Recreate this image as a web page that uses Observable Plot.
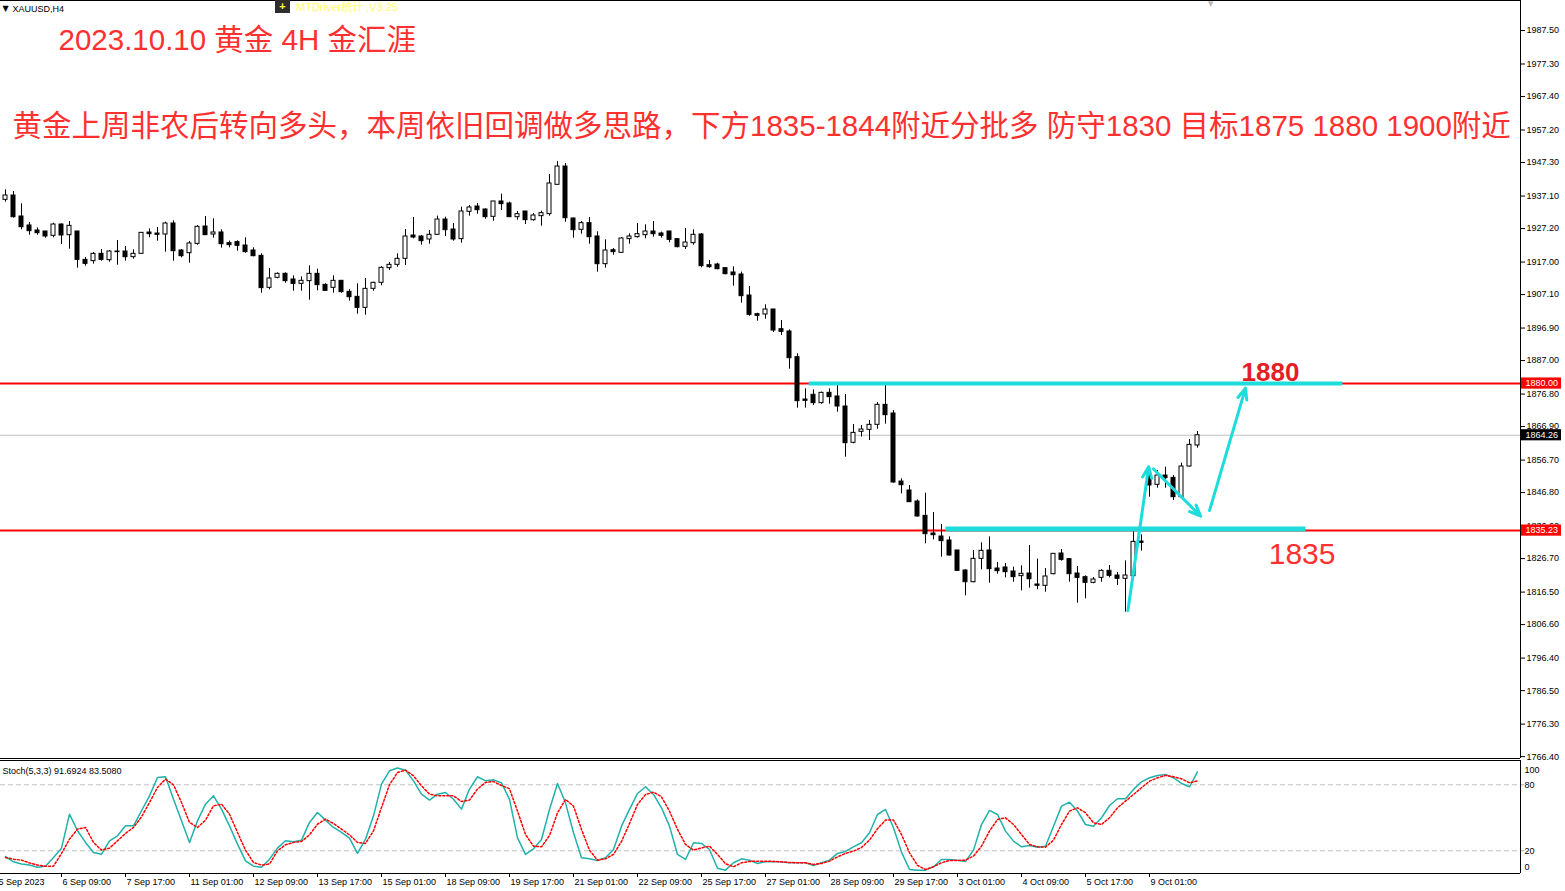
<!DOCTYPE html>
<html><head><meta charset="utf-8">
<script src="https://cdn.jsdelivr.net/npm/d3@7"></script>
<script src="https://cdn.jsdelivr.net/npm/@observablehq/plot@0.6"></script>
<style>
html,body{margin:0;padding:0;background:#fff;}
#wrap{position:relative;width:1565px;height:891px;overflow:hidden;background:#fff;}
#main{position:absolute;left:0;top:0;}
#osc{position:absolute;left:0;top:760px;}
.mtd{position:absolute;left:275px;top:0;width:15px;height:13px;background:#2e2e2e;color:#ffff40;font:bold 11px 'Liberation Sans',sans-serif;text-align:center;line-height:13px;}
.mtdt{position:absolute;left:296px;top:0px;color:#ffff70;font:11px 'Liberation Sans','Noto Sans CJK SC',sans-serif;line-height:14px;}
.shift{position:absolute;left:1208px;top:0px;color:#b8b8b8;font:7px 'DejaVu Sans',sans-serif;line-height:8px;}
</style></head>
<body><div id="wrap"><div id="main"></div><div id="osc"></div>
<div class="mtd">+</div><div class="mtdt">MTDriver统计 ,V3.25</div><div class="shift">▼</div>
</div>
<script>
// ---------- data ----------
const symbolLabel = "XAUUSD,H4";
const title = "2023.10.10 黄金 4H 金汇涯";
const subtitle = "黄金上周非农后转向多头，本周依旧回调做多思路，下方1835-1844附近分批多 防守1830 目标1875 1880 1900附近";

const open = [1935.94,1937.26,1930.87,1928.13,1926.60,1926.30,1924.98,1928.43,1925.18,1926.30,
1917.67,1917.27,1919.50,1917.57,1920.21,1920.21,1918.48,1919.50,1925.99,1925.69,
1925.39,1928.74,1920.51,1919.70,1922.54,1927.82,1925.39,1926.00,1922.75,1923.05,
1922.04,1920.51,1918.89,1909.15,1912.19,1913.41,1911.68,1910.36,1911.18,1913.41,
1910.06,1909.15,1911.28,1907.93,1906.41,1903.06,1908.84,1910.67,1915.14,1916.15,
1917.98,1925.08,1924.78,1923.87,1925.29,1929.95,1926.91,1923.97,1932.29,1933.91,
1933.00,1930.77,1935.44,1934.83,1930.66,1932.39,1929.75,1930.97,1931.58,1940.51,
1946.09,1930.26,1926.81,1928.84,1924.78,1916.35,1920.61,1919.80,1923.97,1924.57,
1925.18,1926.30,1925.69,1926.30,1923.97,1921.63,1922.75,1925.39,1916.05,1916.25,
1915.14,1913.82,1913.21,1906.81,1901.13,1901.03,1902.55,1896.55,1895.85,1888.03,
1875.14,1876.57,1874.03,1877.17,1876.06,1873.01,1861.95,1865.30,1865.91,1867.43,
1873.52,1870.88,1850.17,1847.43,1844.08,1839.72,1834.34,1833.43,1832.21,1829.17,
1823.07,1819.52,1826.63,1829.17,1823.68,1823.99,1822.77,1821.35,1822.16,1818.81,
1818.41,1821.96,1828.25,1826.53,1822.16,1821.04,1819.32,1820.84,1822.97,1821.55,
1820.54,1821.35,1831.90,1852.00,1849.16,1852.00,1851.29,1845.40,1854.74,1861.14];
const high = [1938.99,1938.48,1934.72,1929.04,1927.42,1926.40,1928.84,1928.60,1929.35,1926.40,
1918.38,1919.91,1920.82,1920.51,1923.56,1921.73,1920.72,1926.00,1927.11,1927.52,
1929.14,1929.55,1920.82,1923.26,1928.13,1930.87,1930.16,1926.81,1923.36,1923.46,
1924.37,1921.33,1919.50,1915.03,1913.71,1913.71,1912.80,1912.50,1915.85,1914.83,
1910.36,1912.80,1911.40,1908.54,1910.36,1911.99,1910.87,1915.54,1916.86,1919.50,
1926.91,1930.56,1925.08,1926.60,1930.97,1930.66,1928.74,1933.71,1934.22,1934.83,
1933.20,1935.50,1937.67,1935.23,1932.39,1932.40,1931.78,1932.49,1943.66,1947.62,
1947.01,1930.36,1929.35,1930.56,1926.20,1923.76,1921.12,1924.47,1925.59,1928.74,
1928.33,1929.35,1926.10,1926.40,1924.00,1927.21,1926.81,1925.69,1917.47,1916.66,
1915.34,1915.54,1913.92,1909.55,1901.43,1903.97,1902.60,1899.20,1896.36,1889.05,
1878.39,1878.09,1877.38,1878.39,1879.41,1876.67,1867.53,1867.23,1868.75,1874.23,
1879.41,1871.79,1850.99,1848.96,1844.60,1846.62,1840.74,1837.08,1833.32,1829.20,
1823.28,1829.17,1831.50,1833.32,1825.51,1825.21,1824.09,1824.50,1830.69,1826.53,
1823.68,1828.20,1829.47,1826.73,1824.29,1821.45,1820.94,1823.28,1824.60,1822.47,
1826.02,1835.26,1833.94,1853.52,1853.52,1854.54,1852.00,1855.76,1862.96,1865.40];
const low = [1935.23,1930.40,1926.81,1925.18,1925.18,1924.27,1924.37,1922.34,1920.92,1915.14,
1915.74,1916.35,1917.27,1916.96,1916.05,1917.27,1917.88,1919.40,1924.37,1923.36,
1920.01,1917.27,1918.28,1916.66,1922.14,1925.10,1924.27,1921.23,1921.33,1920.31,
1919.70,1918.59,1907.52,1908.54,1911.89,1910.57,1908.13,1908.13,1905.39,1908.23,
1908.13,1907.52,1907.52,1905.09,1901.13,1900.82,1908.13,1909.76,1914.42,1915.44,
1915.95,1924.07,1922.14,1922.44,1925.20,1924.78,1923.36,1922.75,1930.97,1931.58,
1930.06,1929.45,1932.70,1930.60,1929.75,1928.43,1929.45,1927.92,1930.97,1940.40,
1929.14,1924.27,1925.49,1922.44,1913.92,1915.14,1919.09,1919.70,1922.44,1924.27,
1924.07,1924.57,1924.27,1922.85,1921.33,1920.82,1922.14,1915.24,1915.14,1914.63,
1913.11,1909.66,1904.48,1900.52,1899.00,1899.60,1895.55,1894.63,1884.38,1872.51,
1872.51,1873.32,1873.72,1873.72,1871.29,1857.59,1861.65,1863.68,1862.66,1866.11,
1867.63,1849.67,1846.42,1843.80,1839.32,1831.20,1832.41,1827.13,1827.44,1822.77,
1815.36,1819.32,1823.28,1819.22,1821.96,1820.84,1819.52,1816.88,1817.70,1817.19,
1816.48,1821.75,1825.92,1819.52,1813.13,1814.45,1819.02,1819.52,1820.84,1818.51,
1810.39,1821.30,1828.97,1845.40,1848.15,1848.15,1844.39,1845.30,1854.60,1860.33];
const close = [1937.26,1930.66,1927.62,1926.40,1925.79,1924.78,1928.43,1925.08,1928.03,1917.67,
1916.45,1919.50,1917.67,1920.21,1920.01,1918.48,1919.50,1925.89,1925.49,1925.29,
1928.74,1920.31,1918.79,1922.65,1927.72,1925.18,1926.00,1922.44,1922.14,1921.94,
1920.01,1918.79,1909.05,1911.99,1913.41,1911.18,1910.36,1911.28,1913.41,1909.96,
1908.23,1911.28,1907.83,1906.30,1903.06,1908.84,1910.67,1915.24,1916.15,1917.98,
1924.78,1924.47,1923.36,1925.29,1929.95,1926.71,1923.87,1932.39,1933.61,1932.80,
1930.66,1935.44,1934.63,1930.66,1931.58,1929.75,1931.17,1931.88,1940.92,1946.09,
1930.36,1926.71,1928.84,1924.57,1916.35,1920.51,1920.01,1924.17,1924.78,1925.49,
1926.30,1925.49,1924.98,1923.76,1921.53,1922.95,1925.29,1915.74,1915.44,1914.83,
1913.31,1913.00,1906.61,1900.93,1900.62,1902.55,1896.15,1895.76,1887.73,1874.64,
1874.74,1874.03,1877.17,1875.85,1873.01,1861.85,1864.99,1866.01,1867.43,1873.52,
1870.37,1849.87,1849.06,1843.88,1839.52,1834.14,1833.83,1832.01,1827.64,1822.97,
1819.52,1826.63,1829.06,1823.48,1822.87,1822.57,1821.04,1822.06,1820.43,1818.41,
1821.25,1828.15,1826.32,1821.96,1820.84,1819.32,1820.33,1822.97,1821.45,1820.54,
1821.55,1831.80,1831.50,1848.96,1852.00,1851.19,1845.40,1854.74,1861.34,1864.26];

const stochK = [14.8,10,8,7,5,6,13.9,22.4,53.3,38.2,
27.6,18.5,16.9,29.1,33.6,42.7,42.7,56.4,70.0,86.7,
87.3,66.9,47.3,27.6,47.3,62.4,70.0,57.9,42.7,26.1,
10.9,6,5,12.4,22.4,29.1,28.2,29.7,45.8,54.8,
47.9,41.2,36.7,31.5,17.6,30.6,51.8,80.6,92.7,95.2,
93.3,83.6,71.5,66.1,71.5,73.0,66.9,57.9,76.1,87.3,
83.6,84.5,81.8,66.7,31.8,16.7,21.8,30.3,57.6,81.2,
63.6,36.4,13.6,12.7,11.2,13.6,21.2,42.4,57.6,72.1,
78.2,71.2,59.1,42.4,16.7,12.1,27.3,26.7,21.2,4.2,
2.4,9.1,12.7,11.5,8.5,10.0,10.3,9.7,9.1,9.1,
9.1,6.7,9.1,11.5,17.6,19.4,23.6,27.3,36.4,53.0,
57.6,40.9,18.8,3.0,2.4,2.4,5.5,12.1,12.1,11.5,
10.3,20.6,43.9,56.7,53.0,37.9,28.8,23.6,24.8,23.3,
24.2,42.4,60.6,64.2,56.1,43.9,42.4,50.0,61.2,67.3,
67.3,75.8,82.7,86.4,88.5,89.4,86.4,81.2,78.2,91.69];
const stochD = [13.9,12.4,11.5,9,7,6,6,17.6,30.6,39.7,
41.2,27.6,20.6,22.4,29.1,35.8,41.2,50.9,63.9,77.6,
85.2,80.0,63.9,45.8,41.2,47.9,60.9,62.4,53.3,36.7,
20.6,9.4,7,8,20.0,25.5,27.6,28.5,34.5,44.2,
48.8,44.8,39.7,34.5,27.6,26.7,38.2,59.4,80.0,91.2,
93.3,88.2,79.1,71.5,70.0,70.0,70.0,64.8,66.1,76.1,
82.1,83.0,79.4,76.4,56.1,34.8,24.2,23.6,33.9,54.5,
66.7,60.6,39.4,20.6,11.5,12.7,16.7,28.5,44.8,62.1,
71.2,73.3,69.1,56.1,39.4,25.8,20.6,22.7,24.2,16.7,
8.2,5.5,9.1,10.3,10.6,10.6,10.3,10.0,9.4,9.1,
9.1,7.6,8.5,10.6,14.5,17.6,19.7,23.0,29.7,40.0,
47.9,47.9,34.8,18.2,6.7,3.0,5.5,9.1,11.2,11.2,
11.5,15.2,24.2,37.9,48.5,50.0,43.9,34.8,25.8,23.6,
23.3,29.7,43.9,56.1,59.1,54.5,45.5,43.9,50.0,59.1,
65.2,71.2,77.3,83.3,86.4,88.5,87.3,85.5,81.8,83.51];
const stochTitle = "Stoch(5,3,3) 91.6924 83.5080";

const priceTicks = [1987.50,1977.30,1967.40,1957.20,1947.30,1937.10,1927.20,1917.00,1907.10,1896.90,1887.00,1876.80,1866.90,1856.70,1846.80,1836.60,1826.70,1816.50,1806.60,1796.40,1786.50,1776.30,1766.40];
const timeLabels = ["5 Sep 2023","6 Sep 09:00","7 Sep 17:00","11 Sep 01:00","12 Sep 09:00","13 Sep 17:00","15 Sep 01:00","18 Sep 09:00","19 Sep 17:00","21 Sep 01:00","22 Sep 09:00","25 Sep 17:00","27 Sep 01:00","28 Sep 09:00","29 Sep 17:00","3 Oct 01:00","4 Oct 09:00","5 Oct 17:00","9 Oct 01:00"];
const firstLabelBar = -1, barsPerLabel = 8;

const levelPrices = [1880.00, 1835.23];
const bidPrice = 1864.26;
const stochLevels = [20, 80];
// user-drawn zones (bar index, price)
const zoneFrom = [100.4, 117.5], zoneTo = [167.1, 162.5], zonePrice = [1880.0, 1835.7];
// user-drawn arrows (bar index, price)
const arrowFromBar = [140.3, 143.5, 150.5], arrowFromPrice = [1810.9, 1854.0, 1841.3];
const arrowToBar = [142.9, 149.4, 155.0], arrowToPrice = [1854.7, 1839.6, 1878.6];
const noteLabels = ["1880", "1835"], noteBar = [154.5, 157.9], notePrice = [1883.4, 1827.9];

// ---------- chart ----------
const xMin = -0.625, xMax = 189.375;
const yLo = 1765.83, yHi = 1996.64;
const RED = "#ff3030", CYAN = "#1cdcdc";
const FONT = "'Liberation Sans','Noto Sans CJK SC',sans-serif";

const candles = open.map((o, i) => ({i, open: o, high: high[i], low: low[i], close: close[i]}));
const zones = zonePrice.map((p, k) => ({from: zoneFrom[k], to: zoneTo[k], price: p, w: k === 0 ? 4 : 5}));
const arrows = arrowFromBar.map((b, k) => ({i1: b, p1: arrowFromPrice[k], i2: arrowToBar[k], p2: arrowToPrice[k]}));
const tags = [{price: levelPrices[0], bg: "#ff0000"}, {price: levelPrices[1], bg: "#ff0000"}, {price: bidPrice, bg: "#000000"}];
const notes = noteLabels.map((t, k) => ({t, i: noteBar[k], price: notePrice[k]}));
const timeTicks = timeLabels.map((label, k) => ({label, i: firstLabelBar + barsPerLabel * k}));

const style = {fontFamily: FONT, fontSize: "9px", color: "#000", background: "transparent", overflow: "visible"};

const mainPlot = Plot.plot({
  width: 1565, height: 760,
  marginLeft: 0, marginRight: 45, marginTop: 0, marginBottom: 2,
  x: {domain: [xMin, xMax], axis: null, label: null},
  y: {domain: [yLo, yHi], axis: null, label: null},
  color: {type: "identity"},
  style,
  marks: [
    Plot.ruleY([bidPrice], {stroke: "#c0c0c0"}),
    Plot.ruleY(levelPrices, {stroke: "#ff0000", strokeWidth: 2}),
    Plot.ruleX(candles, {x: "i", y1: "low", y2: "high", stroke: "#000"}),
    Plot.rect(candles, {x1: d => d.i - 0.25, x2: d => d.i + 0.25, y1: "open", y2: "close",
      fill: d => d.close >= d.open ? "#ffffff" : "#000000", stroke: "#000"}),
    Plot.link(zones, {x1: "from", x2: "to", y1: "price", y2: "price", stroke: CYAN, strokeWidth: "w"}),
    Plot.arrow(arrows, {x1: "i1", y1: "p1", x2: "i2", y2: "p2", stroke: CYAN, strokeWidth: 3, headLength: 6, headAngle: 45}),
    Plot.ruleX([xMax], {stroke: "#000"}),
    Plot.ruleY([yHi, yLo], {stroke: "#000"}),
    Plot.axisY(priceTicks, {anchor: "right", tickSize: 4, tickPadding: 2, tickFormat: d => d.toFixed(2), fontSize: 9, label: null}),
    Plot.rect(tags, {x1: xMax + 0.125, x2: xMax + 5.125, y1: d => d.price - 1.7, y2: d => d.price + 1.7, fill: "bg"}),
    Plot.text(tags, {x: xMax, y: "price", text: d => d.price.toFixed(2), fill: "#ffffff", textAnchor: "start", dx: 5, fontSize: 9}),
    Plot.text(["▼"], {text: d => d, frameAnchor: "top-left", dx: 2, dy: 8, textAnchor: "start", lineAnchor: "middle", fontSize: 8, fontFamily: "'DejaVu Sans',sans-serif", fill: "#000"}),
    Plot.text([symbolLabel], {text: d => d, frameAnchor: "top-left", dx: 12, dy: 9, textAnchor: "start", lineAnchor: "middle", fontSize: 9, fill: "#000"}),
    Plot.text([title], {text: d => d, frameAnchor: "top-left", dx: 58, dy: 40, textAnchor: "start", lineAnchor: "middle", fontSize: 29.5, fill: RED}),
    Plot.text([subtitle], {text: d => d, frameAnchor: "top-left", dx: 12, dy: 126, textAnchor: "start", lineAnchor: "middle", fontSize: 29.5, fill: RED}),
    Plot.text(notes.slice(0, 1), {x: "i", y: "price", text: "t", textAnchor: "start", lineAnchor: "middle", fontSize: 26, fontWeight: "bold", fill: "#e31e24"}),
    Plot.text(notes.slice(1), {x: "i", y: "price", text: "t", textAnchor: "start", lineAnchor: "middle", fontSize: 30, fill: RED})
  ]
});
document.getElementById("main").appendChild(mainPlot);

const oscRows = stochK.map((k, i) => ({i, k, d: stochD[i]}));
const oLo = -0.64, oHi = 102.09;
const oscPlot = Plot.plot({
  width: 1565, height: 131,
  marginLeft: 0, marginRight: 45, marginTop: 0, marginBottom: 18,
  x: {domain: [xMin, xMax], axis: null, label: null},
  y: {domain: [oLo, oHi], axis: null, label: null},
  style,
  marks: [
    Plot.ruleY(stochLevels, {stroke: "#c0c0c0", strokeDasharray: "5,3"}),
    Plot.line(oscRows, {x: "i", y: "k", stroke: "#20b2aa"}),
    Plot.line(oscRows, {x: "i", y: "d", stroke: "#ff0000", strokeDasharray: "2,2"}),
    Plot.ruleY([oHi, oLo], {stroke: "#000"}),
    Plot.ruleX([xMax], {stroke: "#000"}),
    Plot.axisY(stochLevels, {anchor: "right", tickSize: 3, tickPadding: 1, stroke: "#a0a0a0", fill: "#000", fontSize: 9, label: null}),
    Plot.text(["100"], {text: d => d, x: xMax, y: 100, dx: 4, dy: 7, textAnchor: "start", fontSize: 9, fill: "#000"}),
    Plot.text(["0"], {text: d => d, x: xMax, y: 0, dx: 4, dy: -6, textAnchor: "start", fontSize: 9, fill: "#000"}),
    Plot.axisX(timeTicks.map(d => d.i), {anchor: "bottom", tickSize: 4, tickFormat: () => "", label: null}),
    Plot.text(timeTicks, {x: "i", text: "label", frameAnchor: "bottom", dx: 1, dy: 9, textAnchor: "start", lineAnchor: "middle", fontSize: 9, fill: "#000"}),
    Plot.text([stochTitle], {text: d => d, frameAnchor: "top-left", dx: 2, dy: 11, textAnchor: "start", lineAnchor: "middle", fontSize: 9, fill: "#000"})
  ]
});
document.getElementById("osc").appendChild(oscPlot);
</script>
</body></html>
